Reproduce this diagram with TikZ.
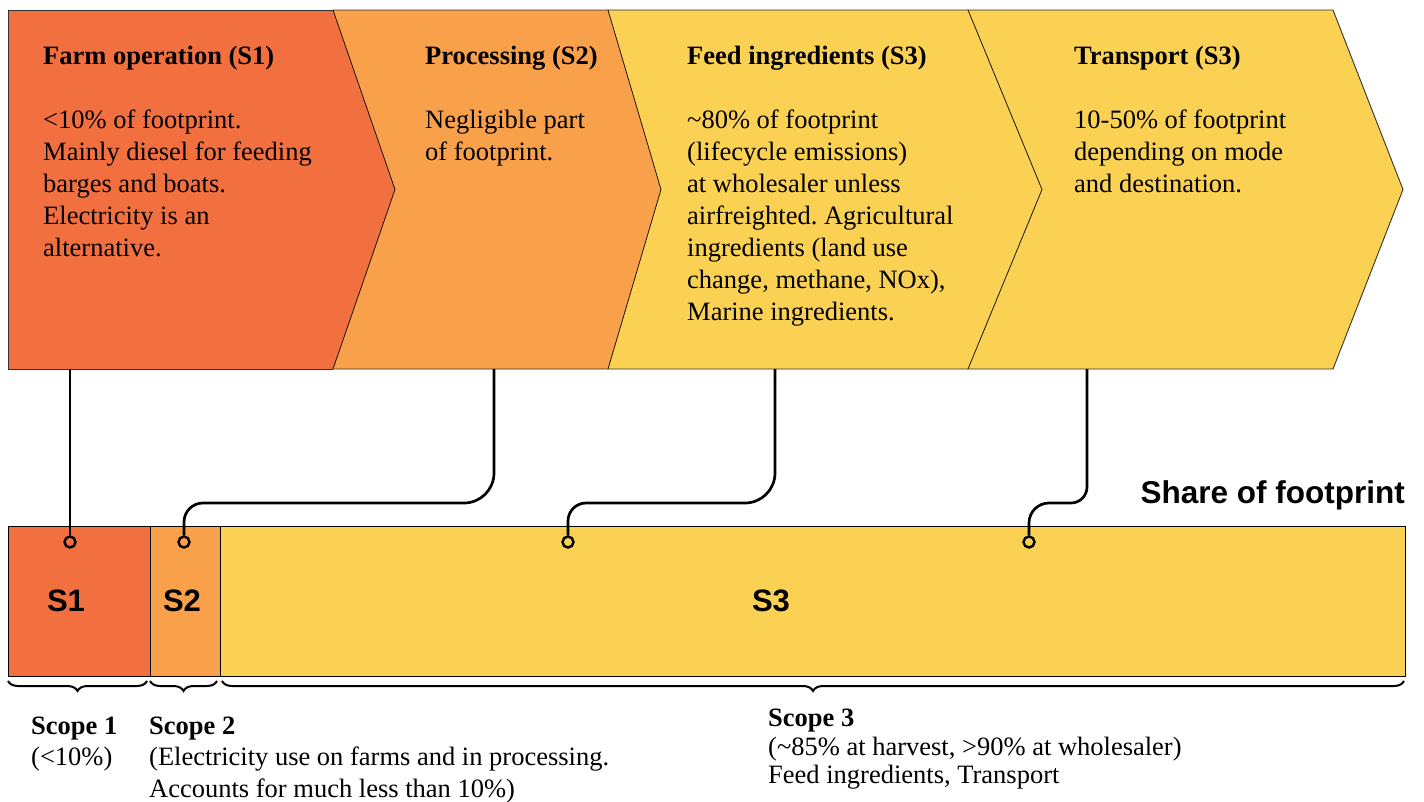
\documentclass[tikz,border=0pt]{standalone}
\usepackage{fontspec}
\setmainfont{Liberation Serif}
\newfontfamily\labelsans{Liberation Sans}
\usetikzlibrary{decorations.pathreplacing}
\definecolor{cSone}{RGB}{242,112,64}
\definecolor{cStwo}{RGB}{248,161,74}
\definecolor{cSthree}{RGB}{250,209,82}
\frenchspacing
\begin{document}
\begin{tikzpicture}[x=1pt,y=-1pt,
  chev/.style={draw=black!80, line width=0.9pt, line join=miter},
  txt/.style={anchor=base west, inner sep=0pt, font=\fontsize{26.5}{32}\selectfont},
  conn/.style={line width=2.7pt},
  dot/.style={circle, draw, line width=2.4pt, minimum size=11pt, inner sep=0pt},
  brc/.style={decorate, decoration={brace, mirror, amplitude=10pt}, line width=2pt},
  barbox/.style={draw=black, line width=1pt},
  barlab/.style={font=\labelsans\bfseries\fontsize{31}{36}\selectfont, inner sep=0pt}
]
\useasboundingbox (0,0) rectangle (1424,801);

% chevrons
\fill[cSone] (8,10) -- (333,10) -- (395,189.5) -- (333,369) -- (8,369) -- cycle;
\fill[cStwo] (333,10) -- (608,10) -- (661,189.5) -- (608,369) -- (333,369) -- (395,189.5) -- cycle;
\fill[cSthree] (608,10) -- (968,10) -- (1042,189.5) -- (968,369) -- (608,369) -- (661,189.5) -- cycle;
\fill[cSthree] (968,10) -- (1333,10) -- (1403,189.5) -- (1333,369) -- (968,369) -- (1042,189.5) -- cycle;
\draw[chev] (333,10) -- (8,10) -- (8,369) -- (333,369);
\draw[chev] (333,10) -- (1333,10) -- (1403,189.5) -- (1333,369) -- (333,369);
\draw[chev, line width=0.7pt, draw=black] (333,10) -- (395,189.5) -- (333,369);
\draw[chev, line width=0.7pt, draw=black] (608,10) -- (661,189.5) -- (608,369);
\draw[chev, line width=0.7pt, draw=black] (968,10) -- (1042,189.5) -- (968,369);

% chevron texts
\node[txt] (t1) at (43,64.5) {\parbox[t]{600pt}{\raggedright\textbf{Farm operation (S1)}\\[32pt]
<10\% of footprint.\\Mainly diesel for feeding\\barges and boats.\\Electricity is an\\alternative.}};
\node[txt] (t2) at (425,64.5) {\parbox[t]{600pt}{\raggedright\textbf{Processing (S2)}\\[32pt]
Negligible part\\of footprint.}};
\node[txt] (t3) at (687,64.5) {\parbox[t]{600pt}{\raggedright\textbf{Feed ingredients (S3)}\\[32pt]
\textasciitilde80\% of footprint\\(lifecycle emissions)\\at wholesaler unless\\airfreighted. Agricultural\\ingredients (land use\\change, methane, NOx),\\Marine ingredients.}};
\node[txt] (t4) at (1074,64.5) {\parbox[t]{600pt}{\raggedright\textbf{Transport (S3)}\\[32pt]
10-50\% of footprint\\depending on mode\\and destination.}};

% share bar
\draw[barbox, fill=cSone] (8,526) rectangle (150,676);
\draw[barbox, fill=cStwo] (150,526) rectangle (220,676);
\draw[barbox, fill=cSthree] (220,526) rectangle (1405,676);
\node[barlab] (s1) at (66,601) {S1};
\node[barlab] (s2) at (182,601) {S2};
\node[barlab] (s3) at (771,601) {S3};
\node[anchor=base east, inner sep=0pt, font=\labelsans\bfseries\fontsize{31.5}{36}\selectfont] (share) at (1405,503) {Share of footprint};

% connector endpoints
\coordinate (c1) at (70,369);
\coordinate (c2) at (494,369);
\coordinate (c3) at (775,369);
\coordinate (c4) at (1087,369);
\node[dot] (d1) at (70,542) {};
\node[dot] (d2) at (184,542) {};
\node[dot] (d3) at (568,542) {};
\node[dot] (d4) at (1029,542) {};

\draw[conn] (c1) -- (d1);
\draw[conn] (c2) -- (494,473) arc[start angle=0, end angle=90, radius=30] -- (203,503)
  arc[start angle=270, end angle=180, radius=19] -- (d2);
\draw[conn] (c3) -- (775,473) arc[start angle=0, end angle=90, radius=30] -- (586,503)
  arc[start angle=270, end angle=180, radius=18] -- (d3);
\draw[conn] (c4) -- (1087,487) arc[start angle=0, end angle=90, radius=16] -- (1049,503)
  arc[start angle=270, end angle=180, radius=20] -- (d4);

% braces
\coordinate (b1a) at (8,681);   \coordinate (b1b) at (147,681);
\coordinate (b2a) at (150,681); \coordinate (b2b) at (217,681);
\coordinate (b3a) at (222,681); \coordinate (b3b) at (1404,681);
\draw[brc] (b1a) -- (b1b);
\draw[brc] (b2a) -- (b2b);
\draw[brc] (b3a) -- (b3b);

% scope texts
\node[txt, font=\fontsize{26.5}{31.5}\selectfont] (sc1) at (31,734) {\parbox[t]{600pt}{\raggedright\textbf{Scope 1}\\(<10\%)}};
\node[txt, font=\fontsize{26.5}{31.5}\selectfont] (sc2) at (149,734) {\parbox[t]{600pt}{\raggedright\textbf{Scope 2}\\(Electricity use on farms and in processing.\\Accounts for much less than 10\%)}};
\node[txt, font=\fontsize{26.5}{28.4}\selectfont] (sc3) at (768,726.7) {\parbox[t]{600pt}{\raggedright\textbf{Scope 3}\\(\textasciitilde85\% at harvest, >90\% at wholesaler)\\Feed ingredients, Transport}};
\end{tikzpicture}
\end{document}
